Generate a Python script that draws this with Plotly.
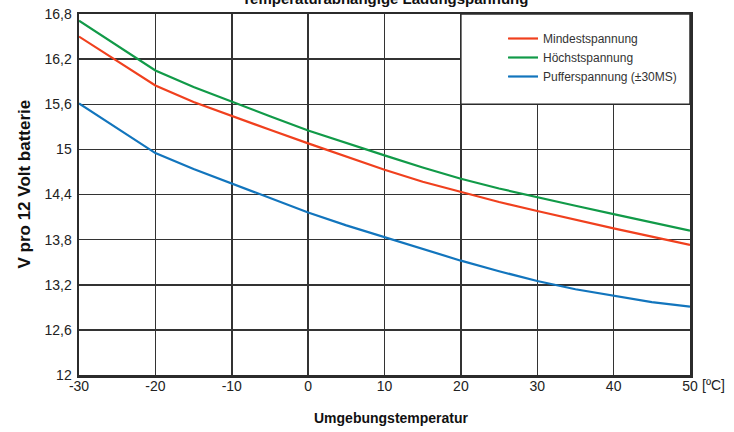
import plotly.graph_objects as go

temps = [-30, -20, -15, -10, -5, 0, 5, 10, 15, 20, 25, 30, 35, 40, 45, 50]
mindest = [16.50, 15.85, 15.63, 15.44, 15.26, 15.08, 14.90, 14.73, 14.57, 14.43, 14.30, 14.18, 14.06, 13.95, 13.84, 13.73]
hoechst = [16.71, 16.05, 15.83, 15.63, 15.44, 15.25, 15.08, 14.92, 14.76, 14.61, 14.48, 14.36, 14.25, 14.14, 14.03, 13.92]
puffer = [15.61, 14.95, 14.74, 14.55, 14.35, 14.16, 13.99, 13.83, 13.67, 13.52, 13.38, 13.25, 13.14, 13.05, 12.97, 12.91]

series_names = ["Mindestspannung", "Höchstspannung", "Pufferspannung (±30MS)"]
series_colors = ["#f0401e", "#119a48", "#1275bd"]

x_ticks = [-30, -20, -10, 0, 10, 20, 30, 40, 50]
x_ticktext = ["-30", "-20", "-10", "0", "10", "20", "30", "40", "50"]
y_ticks = [12, 12.6, 13.2, 13.8, 14.4, 15, 15.6, 16.2, 16.8]
y_ticktext = ["12", "12,6", "13,2", "13,8", "14,4", "15", "15,6", "16,2", "16,8"]

# legend box spans grid cells x 20..50, y 15.6..16.8
legend_box_x = [20, 50]
legend_box_y = [15.6, 16.8]

title_text = "Temperaturabhängige Ladungspannung"
x_title = "Umgebungstemperatur"
y_title = "V pro 12 Volt batterie"
x_unit = "[ºC]"

FONT = "Liberation Sans, Arial, sans-serif"

fig = go.Figure()
for name, vals, col in zip(series_names, [mindest, hoechst, puffer], series_colors):
    fig.add_trace(go.Scatter(x=temps, y=vals, mode="lines", name=name,
                             line=dict(color=col, width=2.2)))

axis_common = dict(showline=True, mirror=True, linewidth=2.5, linecolor="#2b2b2b",
                   showgrid=True, gridcolor="#333333", gridwidth=1.5,
                   zeroline=False, ticks="", fixedrange=True, automargin=False,
                   ticklabeloverflow="allow",
                   tickfont=dict(family=FONT, size=14, color="#222222"))

fig.update_xaxes(range=[-30, 50], tickvals=x_ticks, ticktext=x_ticktext,
                 ticklabelstandoff=-3, **axis_common)
fig.update_yaxes(range=[12, 16.8], tickvals=y_ticks, ticktext=y_ticktext,
                 ticklabelstandoff=2, **axis_common)

fig.add_shape(type="rect", xref="x", yref="y",
              x0=legend_box_x[0], x1=legend_box_x[1], y0=legend_box_y[0], y1=legend_box_y[1],
              fillcolor="white", line=dict(color="#2b2b2b", width=1.5), layer="above")

fig.update_layout(
    width=734, height=432,
    margin=dict(l=79, r=44, t=14, b=57),
    plot_bgcolor="white", paper_bgcolor="white",
    font=dict(family=FONT, color="#222222"),
    showlegend=True,
    hovermode=False,
    legend=dict(x=(503 - 79) / 611, y=1 - 10 / 361, xanchor="left", yanchor="top",
                bgcolor="rgba(0,0,0,0)", borderwidth=0,
                font=dict(family=FONT, size=12, color="#333333"),
                tracegroupgap=0, itemclick=False, itemdoubleclick=False),
    annotations=[
        dict(text=f"<b>{title_text}</b>", xref="paper", yref="paper", x=0.5, y=1,
             xanchor="center", yanchor="bottom", yshift=5, showarrow=False,
             font=dict(family=FONT, size=15, color="#111111")),
        dict(text=f"<b>{x_title}</b>", xref="paper", yref="paper", x=(391 - 79) / 611, y=0,
             xanchor="center", yanchor="middle", yshift=-43, showarrow=False,
             font=dict(family=FONT, size=14, color="#111111")),
        dict(text=f"<b>{y_title}</b>", xref="paper", yref="paper", x=0, y=0.5,
             xanchor="center", yanchor="middle", xshift=-55, yshift=10, textangle=-90,
             showarrow=False, font=dict(family=FONT, size=17, color="#111111")),
        dict(text=x_unit, xref="paper", yref="paper", x=1, y=0,
             xanchor="left", yanchor="top", xshift=10, yshift=0, showarrow=False,
             font=dict(family=FONT, size=14, color="#222222")),
    ],
)

fig.write_html("out.html", config={"displayModeBar": False, "staticPlot": True},
               post_script="document.body.style.margin='0px';")
